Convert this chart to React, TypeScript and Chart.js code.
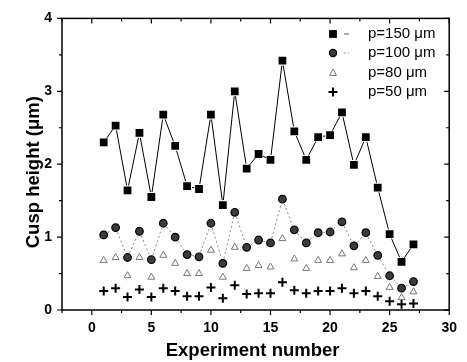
import React, { useEffect, useRef } from "react";
import { Chart, registerables } from "chart.js";

Chart.register(...registerables);

const experiment = [1, 2, 3, 4, 5, 6, 7, 8, 9, 10, 11, 12, 13, 14, 15, 16, 17, 18, 19, 20, 21, 22, 23, 24, 25, 26, 27];
const p150 = [2.3, 2.53, 1.64, 2.43, 1.55, 2.68, 2.25, 1.7, 1.66, 2.68, 1.44, 3.0, 1.94, 2.14, 2.06, 3.42, 2.45, 2.06, 2.37, 2.4, 2.71, 1.99, 2.37, 1.68, 1.04, 0.66, 0.9];
const p100 = [1.03, 1.13, 0.72, 1.08, 0.69, 1.19, 1.0, 0.76, 0.73, 1.19, 0.64, 1.34, 0.86, 0.96, 0.92, 1.52, 1.1, 0.92, 1.06, 1.07, 1.21, 0.88, 1.06, 0.75, 0.47, 0.3, 0.39];
const p80 = [0.68, 0.72, 0.47, 0.72, 0.45, 0.75, 0.64, 0.5, 0.5, 0.82, 0.45, 0.86, 0.57, 0.61, 0.59, 0.98, 0.7, 0.57, 0.68, 0.68, 0.77, 0.58, 0.68, 0.46, 0.31, 0.17, 0.25];
const p50 = [0.26, 0.3, 0.18, 0.28, 0.18, 0.3, 0.26, 0.19, 0.19, 0.31, 0.16, 0.34, 0.22, 0.23, 0.23, 0.38, 0.27, 0.23, 0.26, 0.26, 0.3, 0.23, 0.26, 0.19, 0.12, 0.08, 0.09];

const seriesLabels = ["p=150 \u03bcm", "p=100 \u03bcm", "p=80 \u03bcm", "p=50 \u03bcm"];
const xTickValues = [0, 5, 10, 15, 20, 25, 30];
const yTickValues = [0, 1, 2, 3, 4];
const xTitle = "Experiment number";
const yTitle = "Cusp height (\u03bcm)";

const FONT = '"Liberation Sans", Arial, Helvetica, sans-serif';

const toPoints = (ys: number[]) => experiment.map((x, i) => ({ x, y: ys[i] }));

function drawMarker(ctx: CanvasRenderingContext2D, kind: number, x: number, y: number) {
  ctx.save();
  ctx.setLineDash([]);
  if (kind === 0) {
    ctx.fillStyle = "#000";
    ctx.fillRect(x - 3.9, y - 3.9, 7.8, 7.8);
  } else if (kind === 1) {
    ctx.beginPath();
    ctx.arc(x, y, 3.6, 0, Math.PI * 2);
    ctx.fillStyle = "#3c3c3c";
    ctx.fill();
    ctx.lineWidth = 1.2;
    ctx.strokeStyle = "#000";
    ctx.stroke();
  } else if (kind === 2) {
    ctx.beginPath();
    ctx.moveTo(x, y - 4);
    ctx.lineTo(x + 3.5, y + 2.5);
    ctx.lineTo(x - 3.5, y + 2.5);
    ctx.closePath();
    ctx.lineWidth = 1;
    ctx.strokeStyle = "#777";
    ctx.stroke();
  } else {
    ctx.beginPath();
    ctx.moveTo(x - 4.5, y);
    ctx.lineTo(x + 4.5, y);
    ctx.moveTo(x, y - 4.5);
    ctx.lineTo(x, y + 4.5);
    ctx.lineWidth = 2;
    ctx.strokeStyle = "#000";
    ctx.stroke();
  }
  ctx.restore();
}

const gapLines = {
  id: "gapLines",
  beforeDatasetsDraw(chart: any) {
    const ctx: CanvasRenderingContext2D = chart.ctx;
    const specs = [
      { i: 0, color: "#000", dash: [] as number[], width: 1, gap: 5 },
      { i: 1, color: "#888", dash: [2, 2.5], width: 1, gap: 5 },
    ];
    ctx.save();
    specs.forEach((s) => {
      const pts = chart.getDatasetMeta(s.i).data;
      ctx.strokeStyle = s.color;
      ctx.lineWidth = s.width;
      ctx.setLineDash(s.dash);
      for (let k = 0; k < pts.length - 1; k++) {
        const a = pts[k];
        const b = pts[k + 1];
        const dx = b.x - a.x;
        const dy = b.y - a.y;
        const len = Math.hypot(dx, dy);
        if (len <= 2 * s.gap) continue;
        const ux = dx / len;
        const uy = dy / len;
        ctx.beginPath();
        ctx.moveTo(a.x + ux * s.gap, a.y + uy * s.gap);
        ctx.lineTo(b.x - ux * s.gap, b.y - uy * s.gap);
        ctx.stroke();
      }
    });
    ctx.restore();
  },
};

const frameAndDecor = {
  id: "frameAndDecor",
  afterDraw(chart: any) {
    const ctx: CanvasRenderingContext2D = chart.ctx;
    const { left, right, top, bottom } = chart.chartArea;
    const xs = chart.scales.x;
    const ys = chart.scales.y;
    ctx.save();
    ctx.setLineDash([]);
    ctx.strokeStyle = "#000";
    ctx.lineWidth = 1.5;
    ctx.strokeRect(left, top, right - left, bottom - top);

    ctx.lineWidth = 1.2;
    for (let v = -2.5; v <= 30.001; v += 2.5) {
      const major = Math.abs(v % 5) < 1e-6;
      const px = xs.getPixelForValue(v);
      const len = major ? 5 : 3;
      ctx.beginPath();
      ctx.moveTo(px, bottom);
      ctx.lineTo(px, bottom + len);
      ctx.moveTo(px, top);
      ctx.lineTo(px, top + len);
      ctx.stroke();
    }
    for (let v = 0; v <= 4.001; v += 0.5) {
      const major = Math.abs(v % 1) < 1e-6;
      const py = ys.getPixelForValue(v);
      const len = major ? 5 : 3;
      ctx.beginPath();
      ctx.moveTo(left - len, py);
      ctx.lineTo(left, py);
      ctx.moveTo(right - len, py);
      ctx.lineTo(right, py);
      ctx.stroke();
    }

    ctx.fillStyle = "#000";
    ctx.font = `bold 18.5px ${FONT}`;
    ctx.textAlign = "center";
    ctx.textBaseline = "middle";
    ctx.fillText(xTitle, (left + right) / 2 - 3, 351);
    ctx.save();
    ctx.translate(34, (top + bottom) / 2 + 8);
    ctx.rotate(-Math.PI / 2);
    ctx.fillText(yTitle, 0, 0);
    ctx.restore();

    const rowY = [34, 53, 73, 92];
    const mx = 333;
    ctx.font = `15px ${FONT}`;
    ctx.textAlign = "left";
    ctx.textBaseline = "middle";
    seriesLabels.forEach((lab, i) => {
      const y = rowY[i];
      if (i === 0 || i === 1) {
        ctx.save();
        ctx.strokeStyle = i === 0 ? "#555" : "#999";
        ctx.lineWidth = 1;
        ctx.setLineDash(i === 0 ? [] : [2, 2]);
        ctx.beginPath();
        ctx.moveTo(mx + 11, y);
        ctx.lineTo(mx + 16, y);
        ctx.stroke();
        ctx.restore();
      }
      drawMarker(ctx, i, mx, y);
      ctx.fillStyle = "#000";
      ctx.fillText(lab, 368, y);
    });
    ctx.restore();
  },
};

export default function App() {
  const canvasRef = useRef<HTMLCanvasElement | null>(null);

  useEffect(() => {
    const canvas = canvasRef.current;
    if (!canvas) return;
    Chart.defaults.font.family = FONT;
    const chart = new Chart(canvas, {
      type: "scatter",
      data: {
        datasets: [
          {
            label: seriesLabels[0],
            data: toPoints(p150),
            showLine: false,
            pointStyle: "rect",
            pointRadius: 5.5,
            backgroundColor: "#000",
            borderColor: "#000",
            borderWidth: 0,
          },
          {
            label: seriesLabels[1],
            data: toPoints(p100),
            showLine: false,
            pointStyle: "circle",
            pointRadius: 3.8,
            backgroundColor: "#3c3c3c",
            borderColor: "#000",
            borderWidth: 1.2,
          },
          {
            label: seriesLabels[2],
            data: toPoints(p80),
            showLine: false,
            pointStyle: "triangle",
            pointRadius: 4,
            backgroundColor: "rgba(0,0,0,0)",
            borderColor: "#777",
            borderWidth: 1,
          },
          {
            label: seriesLabels[3],
            data: toPoints(p50),
            showLine: false,
            pointStyle: "cross",
            pointRadius: 4.5,
            backgroundColor: "#000",
            borderColor: "#000",
            borderWidth: 2,
          },
        ],
      },
      options: {
        responsive: false,
        animation: false,
        devicePixelRatio: 1,
        events: [],
        layout: { padding: { left: 0, top: 15, right: 13, bottom: 0 } },
        plugins: {
          legend: { display: false },
          tooltip: { enabled: false },
          title: { display: false },
        },
        scales: {
          x: {
            type: "linear",
            min: -2.5,
            max: 30,
            afterBuildTicks: (s: any) => {
              s.ticks = xTickValues.map((v) => ({ value: v }));
            },
            afterFit: (s: any) => {
              s.height = 52;
            },
            grid: { display: false, drawTicks: false },
            border: { display: false },
            ticks: {
              color: "#000",
              padding: 10,
              maxRotation: 0,
              autoSkip: false,
              font: { size: 14, weight: "bold", family: FONT },
            },
          },
          y: {
            type: "linear",
            min: 0,
            max: 4,
            afterBuildTicks: (s: any) => {
              s.ticks = yTickValues.map((v) => ({ value: v }));
            },
            afterFit: (s: any) => {
              s.width = 62;
            },
            grid: { display: false, drawTicks: false },
            border: { display: false },
            ticks: {
              color: "#000",
              padding: 10,
              autoSkip: false,
              font: { size: 14, weight: "bold", family: FONT },
            },
          },
        },
      },
      plugins: [gapLines, frameAndDecor],
    } as any);
    return () => chart.destroy();
  }, []);

  return (
    <div style={{ position: "absolute", left: 0, top: 0, width: 467, height: 362, background: "#fff" }}>
      <canvas ref={canvasRef} width={467} height={362} style={{ display: "block", width: 467, height: 362 }} />
    </div>
  );
}
